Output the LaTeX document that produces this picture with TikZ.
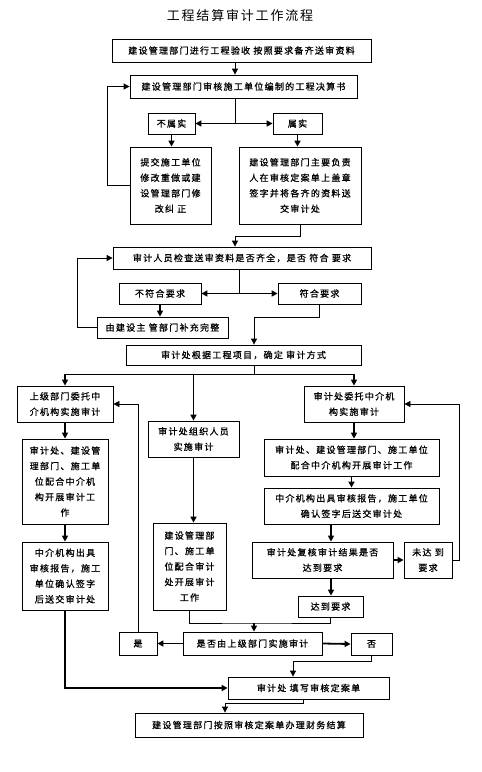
\documentclass[tikz,border=0pt]{standalone}
\usepackage{fontspec}
\newfontfamily\cjk[LetterSpace=14,FakeBold=0.8]{Noto Sans CJK SC}
\newfontfamily\cjktitle[LetterSpace=14]{Noto Sans CJK SC}
\usetikzlibrary{arrows.meta,calc}
\tikzset{>={Triangle[length=6pt,width=6pt]}}

\begin{document}
\begin{tikzpicture}[
        x=1pt, y=-1pt,
        box/.style = {draw, line width=0.8pt, align=center, inner sep=0pt, font=\cjk\fontsize{9}{15.5}\selectfont},
        link/.style = {line width=0.8pt},
        heavy/.style = {line width=1.8pt}]

    \useasboundingbox (0,0) rectangle (482,772);
    \node (title) at (240,16) [font=\cjktitle\fontsize{13}{16}\selectfont] {工程结算审计工作流程};

    % checking of the documents
    \node (b1) at (241.5,50.5) [box, minimum width=259, minimum height=23] {建设管理部门进行工程验收 按照要求备齐送审资料};
    \node (b2) at (243.5,86.5) [box, minimum width=227, minimum height=23] {建设管理部门审核施工单位编制的工程决算书};
    \node (n1) at (171.5,123.5) [box, minimum width=47, minimum height=21] {不属实};
    \node (y1) at (297.5,123.5) [box, minimum width=49, minimum height=21] {属实};
    \node (n2) at (170.5,185.5) [box, minimum width=81, minimum height=77] {提交施工单位\\修改重做或建\\设管理部门修\\改纠 正};
    \node (y2) at (300,185.5) [box, minimum width=122, minimum height=77] {建设管理部门主要负责\\人在审核定案单上盖章\\签字并将各齐的资料送\\交审计处};
    \node (b3) at (242,258) [box, minimum width=258, minimum height=22] {审计人员检查送审资料是否齐全，是否 符合 要求};
    \node (n3) at (160,293.5) [box, minimum width=82, minimum height=21] {不符合要求};
    \node (y3) at (319.5,293.5) [box, minimum width=83, minimum height=21] {符合要求};
    \node (n4) at (162.5,327.5) [box, minimum width=131, minimum height=21] {由建设主 管部门补充完整};
    \node (b4) at (243.5,355) [box, minimum width=235, minimum height=20] {审计处根据工程项目，确定 审计方式};

    % three ways of auditing
    \node (L1) at (65,404) [box, minimum width=96, minimum height=36] {上级部门委托中\\介机构实施审计};
    \node (L2) at (65,481.5) [box, minimum width=86, minimum height=85] {审计处、建设管\\理部门、施工单\\位配合中介机\\构开展审计工\\作};
    \node (L3) at (65,576) [box, minimum width=86, minimum height=68] {中介机构出具\\审核报告，施工\\单位确认签字\\后送交审计处};
    \node (M1) at (193.5,439) [box, minimum width=91, minimum height=36] {审计处组织人员\\实施审计};
    \node (M2) at (189.5,566.5) [box, minimum width=73, minimum height=87] {建设管理部\\门、施工单\\位配合审计\\处开展审计\\工作};
    \node (R1) at (354,404) [box, minimum width=100, minimum height=36] {审计处委托中介机\\构实施审计};
    \node (R2) at (351.5,457.5) [box, minimum width=175, minimum height=37] {审计处、建设管理部门、施工单位\\配合中介机构开展审计工作};
    \node (R3) at (351.5,506) [box, minimum width=175, minimum height=36] {中介机构出具审核报告，施工单位\\确认签字后送交审计处};
    \node (R4) at (322.5,560) [box, minimum width=141, minimum height=36] {审计处复核审计结果是否\\达到要求};
    \node (R5) at (428,560) [box, minimum width=48, minimum height=36] {未达 到\\要求};
    \node (R6) at (330.5,606.5) [box, minimum width=65, minimum height=21] {达到要求};

    % end of the process
    \node (Q) at (252.5,643.5) [box, minimum width=139, minimum height=23] {是否由上级部门实施审计};
    \node (yes) at (138,643.5) [box, minimum width=38, minimum height=23] {是};
    \node (no) at (371.5,644) [box, minimum width=41, minimum height=22] {否};
    \node (F) at (308.5,688) [box, minimum width=161, minimum height=22] {审计处 填写审核定案单};
    \node (E) at (249,725) [box, minimum width=228, minimum height=24] {建设管理部门按照审核定案单办理财务结算};

    \coordinate (xa) at (235,0);
    \coordinate (xb) at (239,0);
    \coordinate (bus) at (254,374);
    \coordinate (join) at (254,623);
    \coordinate (xd) at (293,0);
    \coordinate (xe) at (225,0);
    \coordinate (xf) at (331,0);
    \coordinate (xg) at (303,0);

    \draw[link,->] (b1.south -| xa) -- (b2.north -| xa);
    \draw[link] (b2.south -| xa) -- (xa |- n1.east);
    \draw[heavy,<->] (n1.east) -- (y1.west);
    \draw[heavy,->] (n1.south) -- (n1.south |- n2.north);
    \draw[heavy,->] (y1.south) -- (y1.south |- y2.north);
    \draw[link,->] (n2.west) -- ++(-22,0) |- (b2.west);
    \draw[link,->] (y2.south) -- ++(0,12) -| (b3.north -| xa);

    \draw[link] (b3.south -| xb) -- (xb |- n3.east);
    \draw[heavy,<->] (n3.east) -- (y3.west);
    \draw[heavy,->] (n3.south) -- (n3.south |- n4.north);
    \draw[link,->] (n4.west) -- ++(-19,0) |- (b3.west);
    \draw[link,->] (y3.south) -- ++(0,13) -| (b4.north -| bus);
    \draw[link] (b4.south -| bus) -- (bus);

    \draw[link] (L1.north |- bus) -- (R1.north |- bus);
    \draw[heavy,->] (L1.north |- bus) -- (L1.north);
    \draw[heavy,->] (M1.north |- bus) -- (M1.north);
    \draw[heavy,->] (R1.north |- bus) -- (R1.north);

    \draw[heavy,->] (L1) -- (L2);
    \draw[heavy,->] (L2) -- (L3);
    \draw[heavy,->] (L3.south) |- (F.west);
    \draw[heavy,->] (M1.south) -- (M1.south |- M2.north);
    \draw[heavy,->] (R1.south) -- (R1.south |- R2.north);
    \draw[heavy,->] (R2.south) -- (R2.south |- R3.north);
    \draw[heavy,->] (R3.south -| xf) -- (R4.north -| xf);
    \draw[heavy,->] (R4.east) -- (R5.west);
    \draw[link,->] (R5.east) -- ++(7,0) |- (R1.east);
    \draw[heavy,->] (R4.south -| xf) -- (R6.north -| xf);

    \draw[link] (M2.south) |- (join) -| (R6.south);
    \draw[heavy,->] (join) -- (join |- Q.north);
    \draw[heavy,->] (Q.west) -- (yes.east);
    \draw[heavy,->] (Q.east) -- (no.west);
    \draw[link,->] (yes.north) |- (L1.east);
    \draw[link,->] (no.south) -- ++(0,6) -| (F.north -| xd);
    \draw[link,->] (F.south -| xg) -- ++(0,4) -| (E.north -| xe);

\end{tikzpicture}
\end{document}
